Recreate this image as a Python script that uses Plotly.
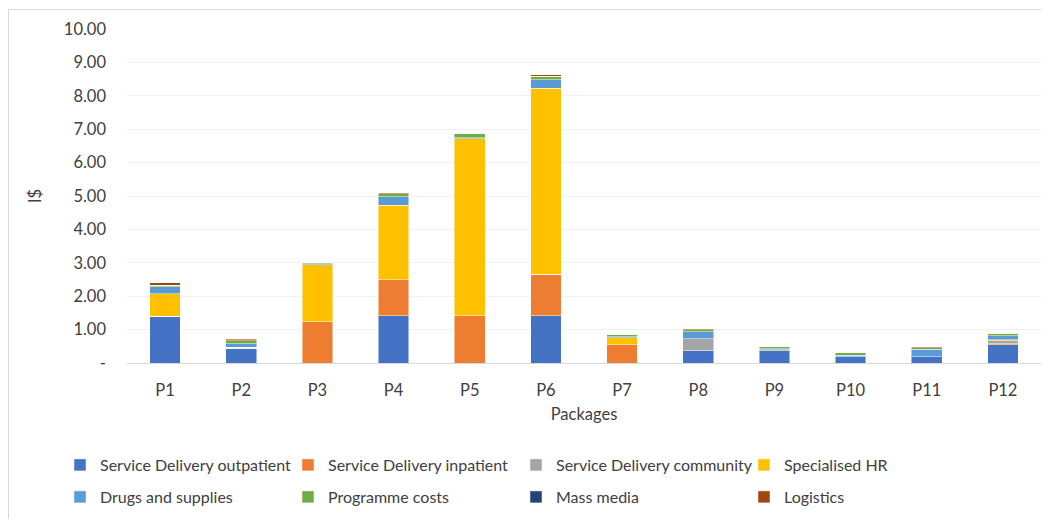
import plotly.graph_objects as go

packages = ["P1", "P2", "P3", "P4", "P5", "P6", "P7", "P8", "P9", "P10", "P11", "P12"]

outpatient = [1.40, 0.44, 0.00, 1.42, 0.00, 1.42, 0.00, 0.37, 0.37, 0.19, 0.19, 0.54]
inpatient = [0.00, 0.00, 1.24, 1.07, 1.42, 1.24, 0.55, 0.00, 0.00, 0.00, 0.00, 0.03]
community = [0.00, 0.03, 0.00, 0.00, 0.00, 0.00, 0.00, 0.36, 0.03, 0.00, 0.00, 0.10]
specialised_hr = [0.68, 0.00, 1.70, 2.24, 5.30, 5.56, 0.21, 0.00, 0.00, 0.00, 0.00, 0.03]
drugs = [0.20, 0.10, 0.03, 0.25, 0.03, 0.26, 0.02, 0.21, 0.02, 0.04, 0.22, 0.11]
programme = [0.05, 0.10, 0.05, 0.09, 0.11, 0.11, 0.07, 0.05, 0.07, 0.07, 0.05, 0.08]
mass_media = [0.00] * 12
logistics = [0.07, 0.04, 0.00, 0.03, 0.00, 0.04, 0.00, 0.04, 0.00, 0.00, 0.03, 0.01]

series_names = ["Service Delivery outpatient", "Service Delivery inpatient",
                "Service Delivery community", "Specialised HR",
                "Drugs and supplies", "Programme costs", "Mass media", "Logistics"]
series_values = [outpatient, inpatient, community, specialised_hr,
                 drugs, programme, mass_media, logistics]
colors = ["#4472C4", "#ED7D31", "#A5A5A5", "#FFC000",
          "#5B9BD5", "#70AD47", "#264478", "#9E480E"]

y_tickvals = [0, 1, 2, 3, 4, 5, 6, 7, 8, 9, 10]
y_ticktext = ["-", "1.00", "2.00", "3.00", "4.00", "5.00", "6.00", "7.00", "8.00", "9.00", "10.00"]

FONT = "Lato"
FS = 16.5
OFF = 8  # page body margin offset in the browser
W, H = 1049, 519
# plot area in screen pixels: x 127..1041, y 29..363
ML = 127 - OFF
MT = 29 - OFF
MR = W - (1041 - OFF)
MB = H - (363 - OFF)
PW = W - ML - MR
PH = H - MT - MB

def px_x(p):
    return (p - OFF - ML) / PW

def px_y(p):
    return (H - MB - (p - OFF)) / PH

fig = go.Figure()
for i, (name, vals, col) in enumerate(zip(series_names, series_values, colors)):
    fig.add_trace(go.Bar(
        x=packages, y=vals, name=name,
        marker=dict(color=col, line=dict(color="rgba(255,255,255,0.6)", width=0.8)),
        legend="legend" if i < 4 else "legend2",
    ))

legend_common = dict(
    orientation="h", xanchor="left", yanchor="middle",
    entrywidth=183, entrywidthmode="pixels",
    font=dict(family=FONT, size=16, color="#404040"),
    bgcolor="rgba(0,0,0,0)", itemclick=False, traceorder="normal",
)

fig.update_layout(
    width=W, height=H,
    margin=dict(l=ML, r=MR, t=MT, b=MB, autoexpand=False),
    barmode="stack", bargap=0.597,
    plot_bgcolor="white", paper_bgcolor="white",
    font=dict(family=FONT, size=FS, color="#404040"),
    legend=dict(x=px_x(60), y=px_y(465), **legend_common),
    legend2=dict(x=px_x(60), y=px_y(497), **legend_common),
    xaxis=dict(
        showgrid=False, showline=True, linecolor="#d9d9d9", linewidth=1,
        ticks="", ticklabelstandoff=12,
        tickfont=dict(family=FONT, size=FS, color="#404040"),
        title=dict(text="Packages", font=dict(family=FONT, size=FS, color="#404040"), standoff=9),
    ),
    yaxis=dict(
        range=[0, 10], tickvals=y_tickvals, ticktext=y_ticktext,
        showgrid=True, gridcolor="#f0f0f0", gridwidth=1,
        zeroline=False, showline=False, ticks="", ticklabelstandoff=20,
        tickfont=dict(family=FONT, size=FS, color="#404040"),
        title=dict(text="I$", font=dict(family=FONT, size=FS, color="#404040"), standoff=18),
    ),
    shapes=[
        dict(type="line", xref="paper", yref="paper",
             x0=px_x(8.5), x1=px_x(1060), y0=px_y(9.5), y1=px_y(9.5),
             line=dict(color="#d9d9d9", width=1)),
        dict(type="line", xref="paper", yref="paper",
             x0=px_x(8.5), x1=px_x(8.5), y0=px_y(9.5), y1=px_y(530),
             line=dict(color="#d9d9d9", width=1)),
    ],
)

fig.write_html("out.html")
